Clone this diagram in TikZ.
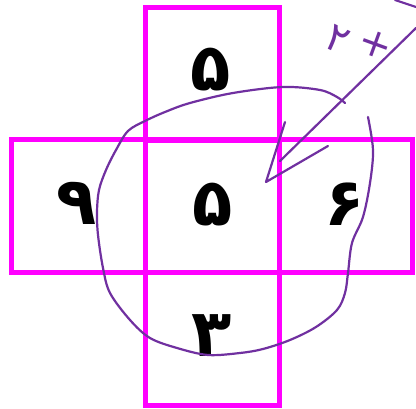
\documentclass[tikz,border=0pt]{standalone}
\usepackage{fontspec}
\newfontfamily\pfont[Script=Arabic]{DejaVu Sans}
\newfontfamily\plainfont{DejaVu Sans}
\definecolor{mag}{HTML}{FF00FF}
\definecolor{pen}{HTML}{7030A0}
\begin{document}
\begin{tikzpicture}[x=1pt,y=-1pt,
  cell/.style={draw=mag,line width=5pt,minimum width=133.5pt,minimum height=133pt,inner sep=0pt},
  digit/.style={font=\pfont\bfseries\fontsize{66}{66}\selectfont,inner sep=0pt},
  note/.style={text=pen,font=\plainfont\fontsize{40}{40}\selectfont,inner sep=0pt},
  ink/.style={draw=pen,line width=2.2pt,line cap=round,line join=round}]
\useasboundingbox (0,0) rectangle (416,409);
\fill[white] (0,0) rectangle (416,409);
\node[cell] (top) at (212.25,74) {};
\node[cell] (left) at (78.25,206.5) {};
\node[cell] (mid) at (212.25,206.5) {};
\node[cell] (right) at (346,206.5) {};
\node[cell] (bot) at (212.25,339) {};
\node[digit] (dtop) at (211,70) {۵};
\node[digit] (dmid) at (213,205) {۵};
\node[digit] (dleft) at (77,203) {۹};
\node[digit] (dright) at (345,204) {۶};
\node[digit] (dbot) at (212,336) {۳};
\draw[ink] plot[smooth,tension=0.55] coordinates {(345,103) (337,97) (320,90) (283,87) (233,93) (190,103) (165,112) (145,121) (128,131) (116,150) (106,170) (99,190) (97,212) (98,235) (103,268) (110,293) (130,320) (150,338) (177,348) (208,355) (240,353) (263,349) (290,340) (316,327) (337,310) (345,293) (348,273) (352,243) (363,217) (370,183) (373,150) (368,117)};
\coordinate (shafttop) at (416,28);
\coordinate (shaftend) at (280,161);
\coordinate (tip) at (266,182);
\coordinate (barbA) at (285,122);
\coordinate (barbB) at (328,146);
\draw[ink] (shafttop) -- (shaftend);
\draw[ink] (barbA) -- (tip) -- (barbB);
\coordinate (markA) at (395,0);
\coordinate (markB) at (416,7);
\draw[ink] (markA) -- (markB);
\node[note,rotate=-25] (two) at (338,40) {۲};
\node[note,rotate=-20] (plus) at (376,44) {+};
\end{tikzpicture}
\end{document}
